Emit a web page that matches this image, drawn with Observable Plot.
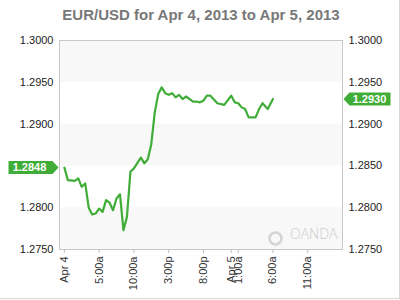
<!DOCTYPE html>
<html>
<head>
<meta charset="utf-8">
<script src="https://cdn.jsdelivr.net/npm/d3@7"></script>
<script src="https://cdn.jsdelivr.net/npm/@observablehq/plot@0.6"></script>
<style>
  html, body { margin: 0; padding: 0; background: #fff; }
  #wrap { position: relative; width: 400px; height: 300px; overflow: hidden; }
  #edge { position: absolute; left: 0; top: 0; width: 400px; height: 299px; box-sizing: border-box;
          border-right: 1px solid #d8d8d8; border-bottom: 1px solid #d8d8d8; pointer-events: none; }
  svg { font-family: "Liberation Sans", Arial, sans-serif; }
</style>
</head>
<body>
<div id="wrap"><div id="edge"></div></div>
<script>
const titleText = "EUR/USD for Apr 4, 2013 to Apr 5, 2013";

const times = [
  "2013-04-04T00:00Z","2013-04-04T00:30Z","2013-04-04T01:30Z","2013-04-04T02:00Z","2013-04-04T02:30Z",
  "2013-04-04T03:00Z","2013-04-04T03:30Z","2013-04-04T04:00Z","2013-04-04T04:30Z","2013-04-04T05:00Z",
  "2013-04-04T05:30Z","2013-04-04T06:00Z","2013-04-04T06:30Z","2013-04-04T07:00Z","2013-04-04T07:30Z",
  "2013-04-04T08:00Z","2013-04-04T08:30Z","2013-04-04T09:00Z","2013-04-04T09:30Z","2013-04-04T10:00Z",
  "2013-04-04T11:00Z","2013-04-04T11:30Z","2013-04-04T12:00Z","2013-04-04T12:30Z","2013-04-04T13:00Z",
  "2013-04-04T13:30Z","2013-04-04T14:00Z","2013-04-04T14:30Z","2013-04-04T15:00Z","2013-04-04T15:30Z",
  "2013-04-04T16:00Z","2013-04-04T16:30Z","2013-04-04T17:00Z","2013-04-04T17:30Z","2013-04-04T18:30Z",
  "2013-04-04T19:00Z","2013-04-04T19:30Z","2013-04-04T20:00Z","2013-04-04T20:30Z","2013-04-04T21:00Z",
  "2013-04-04T22:00Z","2013-04-04T23:00Z","2013-04-05T00:00Z","2013-04-05T00:30Z","2013-04-05T01:00Z",
  "2013-04-05T01:30Z","2013-04-05T02:00Z","2013-04-05T02:30Z","2013-04-05T03:30Z","2013-04-05T04:00Z",
  "2013-04-05T04:30Z","2013-04-05T05:15Z","2013-04-05T06:00Z"
];
const rates = [
  1.2848,1.2833,1.2832,1.2835,1.2825,1.2829,1.2800,1.2792,1.2793,1.2799,
  1.2795,1.2809,1.2806,1.2797,1.2811,1.2816,1.2773,1.2789,1.2843,1.2847,
  1.2860,1.2853,1.2858,1.2876,1.2914,1.2936,1.2944,1.2937,1.2935,1.2937,
  1.2932,1.2935,1.2930,1.2933,1.2927,1.2927,1.2926,1.2928,1.2934,1.2934,
  1.2925,1.2923,1.2934,1.2926,1.2925,1.2920,1.2918,1.2908,1.2908,1.2918,
  1.2925,1.2918,1.2930
];

const xTickTimes = [
  "2013-04-04T00:00Z","2013-04-04T05:00Z","2013-04-04T10:00Z","2013-04-04T15:00Z","2013-04-04T20:00Z",
  "2013-04-05T00:00Z","2013-04-05T01:00Z","2013-04-05T06:00Z","2013-04-05T11:00Z"
];
const xTickLabels = ["Apr 4","5:00a","10:00a","3:00p","8:00p","Apr 5","1:00a","6:00a","11:00a"];
const xDomain = ["2013-04-03T23:18Z","2013-04-05T16:00Z"];

const yTicksRight = [1.2750, 1.2800, 1.2850, 1.2900, 1.2950, 1.3000];
// on the left, 1.2850 is hidden under the opening-rate badge
const yTicksLeft = [1.2750, 1.2800, 1.2900, 1.2950, 1.3000];
const bandLow = [1.2750, 1.2850, 1.2950];
const bandStep = 0.005;

const green = "#3fad38";

const data = times.map((t, i) => ({date: new Date(t), rate: rates[i]}));
const tickDates = xTickTimes.map(t => new Date(t));
const labelFor = d => {
  const i = tickDates.findIndex(t => +t === +d);
  return i >= 0 ? xTickLabels[i] : "";
};
const bands = bandLow.map(v => ({y1: v, y2: v + bandStep}));
const firstRate = rates[0];
const lastRate = rates[rates.length - 1];

const badgeLeft = {
  draw(ctx) {
    ctx.moveTo(0, 0); ctx.lineTo(-6, -6.5); ctx.lineTo(-50, -6.5);
    ctx.lineTo(-50, 6.5); ctx.lineTo(-6, 6.5); ctx.closePath();
  }
};
const badgeRight = {
  draw(ctx) {
    ctx.moveTo(0, 0); ctx.lineTo(6, -6.5); ctx.lineTo(47, -6.5);
    ctx.lineTo(47, 6.5); ctx.lineTo(6, 6.5); ctx.closePath();
  }
};

const chart = Plot.plot({
  width: 400,
  height: 300,
  marginTop: 40,
  marginBottom: 51,
  marginLeft: 59,
  marginRight: 58,
  style: {fontFamily: "'Liberation Sans', Arial, sans-serif", fontSize: "11px", color: "#222", background: "transparent"},
  x: {
    type: "utc",
    domain: xDomain.map(d => new Date(d)),
    label: null,
    axis: null
  },
  y: {
    domain: [1.275, 1.300],
    label: null,
    axis: null
  },
  marks: [
    Plot.rect(bands, {y1: "y1", y2: "y2", fill: "#f8f8f8"}),
    Plot.frame({stroke: "#c8c8c8"}),
    Plot.axisY({anchor: "left", ticks: yTicksLeft, tickFormat: ".4f", tickSize: 0, tickPadding: 6, label: null, fill: "#222"}),
    Plot.axisY({anchor: "right", ticks: yTicksRight, tickFormat: ".4f", tickSize: 0, tickPadding: 6, label: null, fill: "#222"}),
    Plot.axisX({ticks: tickDates, tickFormat: labelFor, tickRotate: -90, tickSize: 4, tickPadding: 3,
      label: null, stroke: "#c0c0c0", fill: "#333"}),
    Plot.dot(["logo"], {frameAnchor: "bottom-right", dx: -67, dy: -11, r: 6, stroke: "#d4d4d4", strokeWidth: 2.5, fill: "none"}),
    Plot.text(["OANDA"], {frameAnchor: "bottom-right", dx: -5, dy: -11, text: d => d, textAnchor: "end",
      fill: "#cccccc", fontSize: 14, fontFamily: "'Open Sans', 'Liberation Sans', sans-serif", fontWeight: 300}),
    Plot.line(data, {x: "date", y: "rate", stroke: green, strokeWidth: 2.2}),
    Plot.dot([firstRate], {y: d => d, frameAnchor: "left", dx: -1, symbol: badgeLeft, fill: green, stroke: "none", r: 5}),
    Plot.text([firstRate], {y: d => d, frameAnchor: "left", dx: -30, textAnchor: "middle", text: d => d.toFixed(4),
      fill: "white", fontWeight: "bold", fontSize: 11}),
    Plot.dot([lastRate], {y: d => d, frameAnchor: "right", dx: 1, symbol: badgeRight, fill: green, stroke: "none", r: 5}),
    Plot.text([lastRate], {y: d => d, frameAnchor: "right", dx: 27, textAnchor: "middle", text: d => d.toFixed(4),
      fill: "white", fontWeight: "bold", fontSize: 11}),
    Plot.text([titleText], {frameAnchor: "top", dy: -31, text: d => d, fontSize: 15, fontWeight: "bold", fill: "#787878"})
  ]
});
document.getElementById("wrap").prepend(chart);
</script>
</body>
</html>
